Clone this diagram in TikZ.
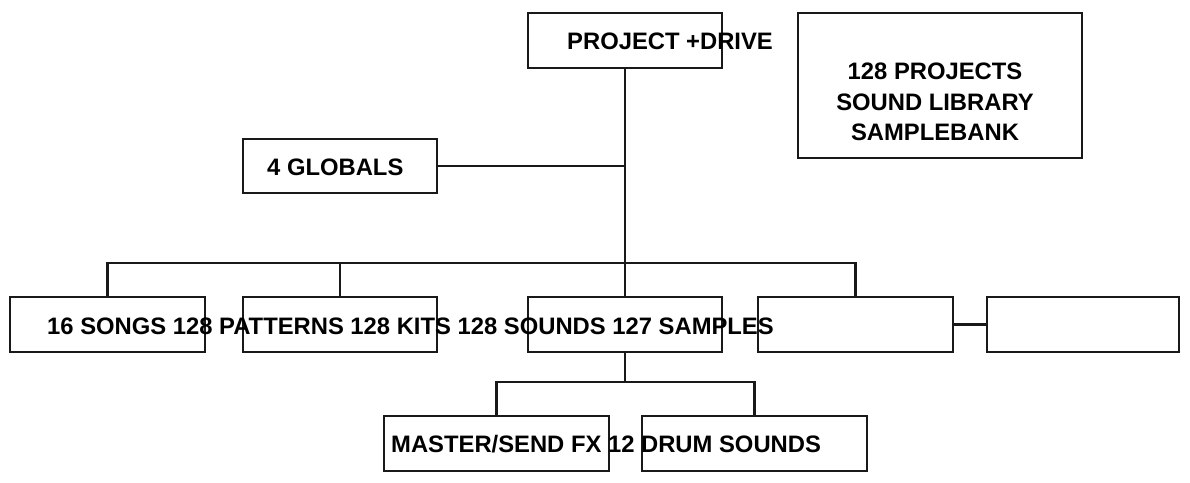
\documentclass[tikz,border=0pt]{standalone}
\usepackage{fontspec}
\setmainfont{Liberation Sans}
\begin{document}
\begin{tikzpicture}[x=1pt,y=-1pt,
  box/.style={draw=black!90, line width=2.4pt, rectangle, inner sep=0pt, minimum height=55pt},
  wire/.style={draw=black!90, line width=2.4pt},
  lbl/.style={inner sep=0pt, font=\fontsize{23.8}{30.5}\selectfont\bfseries, text=black}]
\useasboundingbox[fill=white] (0,0) rectangle (1190,482);
% boxes
\node[box, minimum width=194pt] (proj) at (625,40.5) {};
\node[box, minimum width=284pt, minimum height=145pt] (lib) at (940,85.5) {};
\node[box, minimum width=194pt, minimum height=54pt] (glob) at (340,166) {};
\node[box, minimum width=195pt] (b1) at (107.5,324.5) {};
\node[box, minimum width=194pt] (b2) at (340,324.5) {};
\node[box, minimum width=194pt] (b3) at (625,324.5) {};
\node[box, minimum width=195pt] (b4) at (855.5,324.5) {};
\node[box, minimum width=192pt] (b5) at (1083,324.5) {};
\node[box, minimum width=225pt] (m1) at (496.5,443.5) {};
\node[box, minimum width=225pt] (m2) at (754.5,443.5) {};
% connectors
\coordinate (bus) at (625,263);
\coordinate (sub) at (625,382);
\draw[wire] (proj.south) -- (b3.north);
\draw[wire] (glob.east) -- (glob.east -| proj.south);
\draw[wire] (b1.north) |- (bus) -| (b4.north);
\draw[wire] (b2.north) -- (b2.north |- bus);
\draw[wire] (b4.east) -- (b5.west);
\draw[wire] (b3.south) -- (sub);
\draw[wire] (m1.north) |- (sub) -| (m2.north);
% texts
\node[lbl, anchor=base west] (tproj) at (567,49) {PROJECT +DRIVE};
\node[lbl, anchor=base west] (tglob) at (267,175) {4 GLOBALS};
\node[lbl, align=center] (tlib) at (935,102) {128 PROJECTS\\SOUND LIBRARY\\SAMPLEBANK};
\node[lbl, anchor=base west] (trow) at (47,334) {16 SONGS 128 PATTERNS 128 KITS 128 SOUNDS 127 SAMPLES};
\node[lbl, anchor=base west] (tsub) at (391,452) {MASTER/SEND FX 12 DRUM SOUNDS};
\end{tikzpicture}
\end{document}
